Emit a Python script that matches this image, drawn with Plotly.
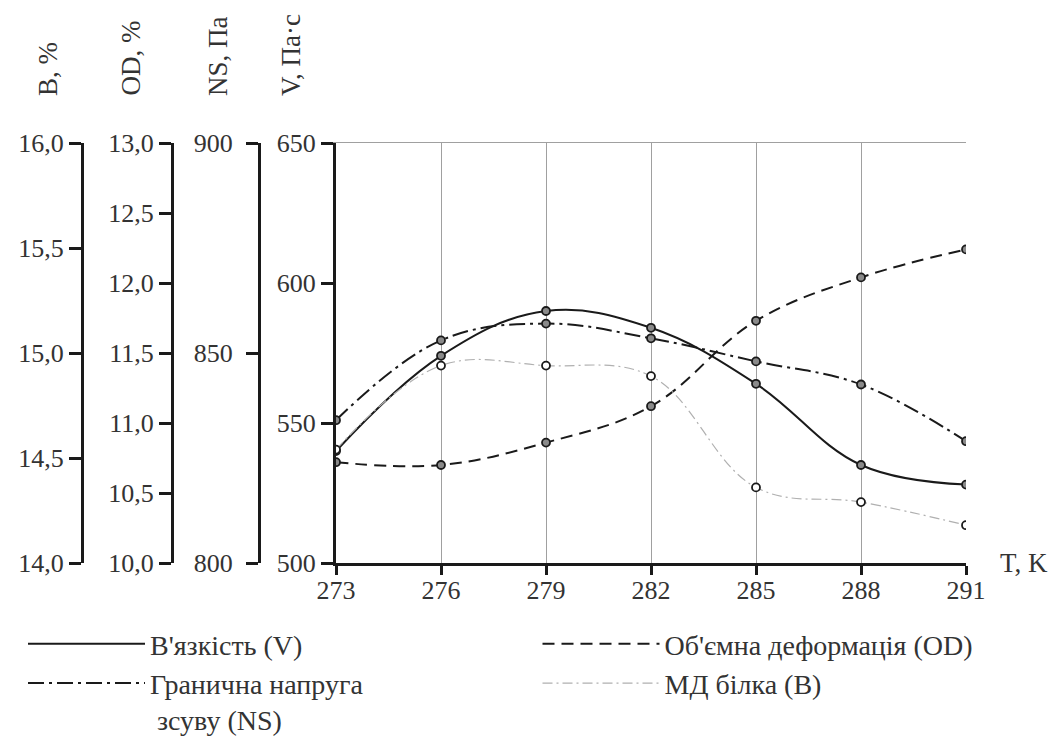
import plotly.graph_objects as go

T = [273, 276, 279, 282, 285, 288, 291]
V = [540, 574, 590, 584, 564, 535, 528]
NS = [834, 853, 857, 853.5, 848, 842.5, 829]
OD = [10.72, 10.70, 10.86, 11.12, 11.73, 12.04, 12.24]
B = [14.54, 14.94, 14.94, 14.89, 14.36, 14.29, 14.18]

V_ticks = [500, 550, 600, 650]
NS_ticks = [800, 850, 900]
OD_ticks = [10.0, 10.5, 11.0, 11.5, 12.0, 12.5, 13.0]
OD_text = ["10,0", "10,5", "11,0", "11,5", "12,0", "12,5", "13,0"]
B_ticks = [14.0, 14.5, 15.0, 15.5, 16.0]
B_text = ["14,0", "14,5", "15,0", "15,5", "16,0"]

names = {
    "V": "В'язкість (V)",
    "OD": "Об'ємна деформація (OD)",
    "NS": "Гранична напруга<br> зсуву (NS)",
    "B": "МД білка (B)",
}

# page body has an 8px margin, so the figure is 8px smaller than the window
OFF = 8
W, H = 1058 - OFF, 740 - OFF
FONT = "'Liberation Serif', 'DejaVu Serif', 'Times New Roman', serif"
INK = "#1a1a1a"
TXT = "#333333"

def px_x(p):
    return (p - OFF) / W

def px_y(p):
    return 1 - (p - OFF) / H

fig = go.Figure()

series = [
    ("V", V, "y", dict(color=INK, width=2, dash="solid"), "#8a8a8a", INK),
    ("OD", OD, "y3", dict(color=INK, width=2, dash="12px,7px"), "#8a8a8a", INK),
    ("NS", NS, "y2", dict(color=INK, width=2, dash="16px,5px,3px,5px"), "#8a8a8a", INK),
    ("B", B, "y4", dict(color="#b0b0b0", width=1.2, dash="10px,4px,2px,4px"), "white", INK),
]

for key, vals, ax, line, mfill, mline in series:
    fig.add_trace(go.Scatter(
        x=T, y=vals, yaxis=ax, mode="lines", name=names[key],
        line=dict(shape="spline", smoothing=1.1, **line), showlegend=True,
    ))
for key, vals, ax, line, mfill, mline in series:
    fig.add_trace(go.Scatter(
        x=T, y=vals, yaxis=ax, mode="markers", showlegend=False,
        marker=dict(size=8, color=mfill, line=dict(color=mline, width=1.8)),
        hoverinfo="skip",
    ))

tickfont = dict(family=FONT, size=26, color=TXT)
common_y = dict(
    showline=True, linecolor=INK, linewidth=3, ticks="outside", ticklen=12,
    tickwidth=3, tickcolor=INK, showgrid=False, zeroline=False, tickfont=tickfont,
    side="left", automargin=False,
)

fig.update_layout(
    template="none",
    width=W, height=H,
    margin=dict(l=0, r=0, t=0, b=0, autoexpand=False),
    paper_bgcolor="white", plot_bgcolor="white",
    font=dict(family=FONT, size=26, color=TXT),
    xaxis=dict(
        domain=[px_x(336), px_x(966)], range=[273, 291],
        tickvals=T, showline=True, linecolor=INK, linewidth=3,
        ticks="outside", ticklen=9, tickwidth=3, tickcolor=INK,
        showgrid=True, gridcolor="#a0a0a0", gridwidth=1, zeroline=False,
        tickfont=tickfont, anchor="y", automargin=False, ticklabelstandoff=-7,
    ),
    xaxis2=dict(
        overlaying="x", side="top", anchor="y", range=[273, 291],
        showline=True, linecolor="#a0a0a0", linewidth=1, automargin=False,
        showticklabels=False, ticks="", showgrid=False, zeroline=False,
    ),
    yaxis=dict(domain=[px_y(563), px_y(143)], range=[500, 650], tickvals=V_ticks,
               anchor="x", **common_y),
    yaxis2=dict(overlaying="y", anchor="free", position=px_x(259), ticklabelstandoff=8,
                range=[800, 900], tickvals=NS_ticks, **common_y),
    yaxis3=dict(overlaying="y", anchor="free", position=px_x(172),
                range=[10, 13], tickvals=OD_ticks, ticktext=OD_text, **common_y),
    yaxis4=dict(overlaying="y", anchor="free", position=px_x(82),
                range=[14, 16], tickvals=B_ticks, ticktext=B_text, **common_y),
    legend=dict(
        orientation="h", x=px_x(23), y=px_y(619), xanchor="left", yanchor="top",
        entrywidth=0.49, entrywidthmode="fraction", itemwidth=117, valign="top",
        font=dict(family=FONT, size=28, color=TXT), bgcolor="rgba(0,0,0,0)",
        borderwidth=0, tracegroupgap=0,
    ),
    showlegend=True,
)

# invisible point to activate the top frame axis
fig.add_trace(go.Scatter(x=[T[0]], y=[V[0]], xaxis="x2", yaxis="y", mode="markers",
                         marker=dict(opacity=0), showlegend=False, hoverinfo="skip"))

titles = [("B, %", 48), ("OD, %", 130), ("NS, Па", 218), ("V, Па·с", 291)]
for txt, xp in titles:
    fig.add_annotation(
        text=txt, x=px_x(xp), y=px_y(98), xref="paper", yref="paper",
        xanchor="center", yanchor="bottom", textangle=-90, showarrow=False,
        font=dict(family=FONT, size=27, color=TXT),
    )

fig.add_annotation(
    text="T, K", x=px_x(998), y=px_y(563), xref="paper", yref="paper",
    xanchor="left", yanchor="middle", showarrow=False,
    font=dict(family=FONT, size=27, color=TXT),
)

fig.write_html("out.html")
